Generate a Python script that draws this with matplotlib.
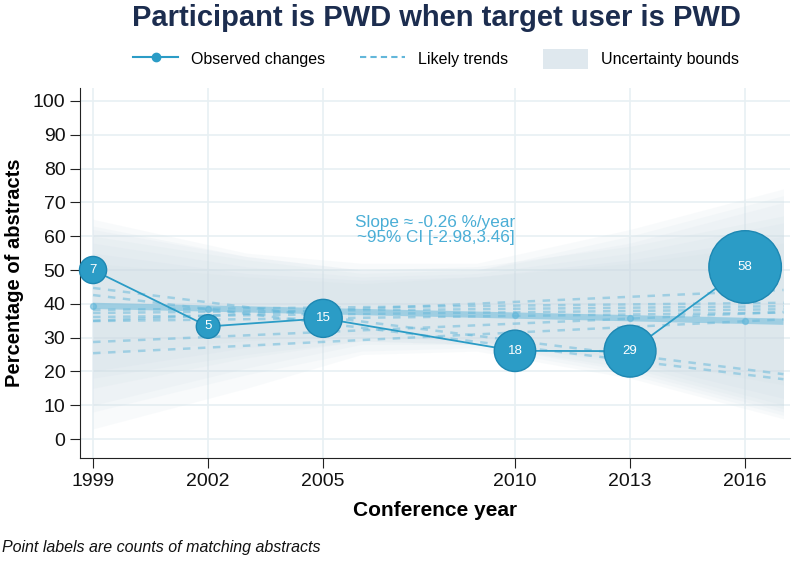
import matplotlib

matplotlib.use("Agg")
import matplotlib.pyplot as plt
from matplotlib.lines import Line2D
from matplotlib.patches import Patch

plt.rcParams["font.family"] = ["Liberation Sans", "DejaVu Sans"]

# observed share of abstracts and counts
years = [1999, 2002, 2005, 2010, 2013, 2016]
pct = [50.0, 33.3, 35.7, 26.1, 26.0, 50.9]
counts = [7, 5, 15, 18, 29, 58]

# fitted trend (main) and bootstrapped likely trends, start/end values
trend_x = [1999, 2017]
main_trend = [39.4, 34.7]
trend_marks_x = [1999, 2002, 2005, 2010, 2013, 2016]
trend_marks_y = [39.4, 38.6, 37.9, 36.6, 35.8, 35.0]
likely_start = [44.7, 42.6, 38.2, 37.3, 36.1, 34.9, 35.0, 28.7, 25.4]
likely_end = [19.2, 17.7, 40.3, 39.3, 38.4, 37.4, 44.1, 37.6, 35.4]

# uncertainty bands: lower / upper edges at band_years
band_years = [1999, 2003, 2006, 2009, 2013, 2017]
bands_lo = [
    [20, 27, 30, 29, 22, 10],
    [15, 24, 29, 28, 20, 8],
    [8, 19, 26, 27, 19, 7],
    [25, 29, 31, 29, 23, 12],
    [3, 15, 25, 26, 18, 6],
    [18, 25, 29, 28, 24, 16],
    [10, 21, 28, 28, 21, 9],
]
bands_hi = [
    [58, 51, 48, 49, 55, 64],
    [62, 54, 50, 50, 58, 70],
    [65, 55, 52, 52, 62, 74],
    [55, 49, 47, 48, 53, 60],
    [60, 53, 49, 50, 60, 72],
    [52, 48, 46, 48, 52, 58],
    [63, 54, 50, 51, 57, 66],
]

TITLE_C = "#1c2d4f"
OBS = "#2b9cc6"
OBS_EDGE = "#1d87b2"
TREND = "#62b7da"
BAND = "#c8d8e2"

fig = plt.figure(figsize=(8.0, 5.63), dpi=100)
ax = fig.add_axes([0.1, 0.1865, 0.8875, 0.657])

for lo, hi in zip(bands_lo, bands_hi):
    ax.fill_between(band_years, lo, hi, color=BAND, alpha=0.11, lw=0)

for a, b in zip(likely_start, likely_end):
    ax.plot(trend_x, [a, b], color=TREND, lw=1.8, ls=(0, (3, 3)), alpha=0.5)

ax.plot(trend_x, main_trend, color=TREND, lw=4.5, alpha=0.5, solid_capstyle="butt")
ax.scatter(trend_marks_x, trend_marks_y, s=18, color=TREND, alpha=0.6, zorder=3)

ax.plot(years, pct, color=OBS, lw=1.3, zorder=4)
ax.scatter(years, pct, s=[60 + 46 * c for c in counts], color=OBS,
           edgecolors=OBS_EDGE, linewidths=1.0, zorder=5, clip_on=False)
for x, y, c in zip(years, pct, counts):
    ax.text(x, y, str(c), color="white", fontsize=9.5, ha="center",
            va="center", zorder=6)

ax.text(2010.0, 61.8, "Slope \u2248 -0.26 %/year\n~95% CI [-2.98,3.46]",
        color="#4aaed6", fontsize=12.3, ha="right", va="center",
        multialignment="right", linespacing=0.95)

ax.set_xlim(1998.66, 2017.17)
ax.set_ylim(-5.6, 103.8)
ax.set_xticks(years)
ax.set_yticks(range(0, 101, 10))
ax.tick_params(labelsize=14, length=7, color="#222222", labelcolor="#111111")
ax.grid(True, color="#e8f0f3", lw=1.2)
ax.set_axisbelow(True)
for s in ("top", "right"):
    ax.spines[s].set_visible(False)
for s in ("left", "bottom"):
    ax.spines[s].set_color("#222222")
ax.set_xlabel("Conference year", fontsize=15, fontweight="bold", labelpad=8)
ax.set_ylabel("Percentage of abstracts", fontsize=14.5, fontweight="bold", labelpad=6)

handles = [
    Line2D([], [], color=OBS, lw=1.5, marker="o", markersize=6),
    Line2D([], [], color=TREND, lw=1.5, ls=(0, (3, 2))),
    Patch(facecolor="#dfe8ee", edgecolor="none"),
]
fig.legend(handles, ["Observed changes", "Likely trends", "Uncertainty bounds"],
           loc="center", bbox_to_anchor=(0.545, 0.895), ncol=3, frameon=False,
           fontsize=11.5, handlelength=2.8, columnspacing=2.2, handleheight=1.6)

fig.suptitle("Participant is PWD when target user is PWD", fontsize=21,
             fontweight="bold", color=TITLE_C, x=0.546, y=0.993)
fig.text(0.002, 0.02, "Point labels are counts of matching abstracts",
         fontsize=11.5, style="italic", color="#111111")

fig.savefig("out.png", dpi=100)
